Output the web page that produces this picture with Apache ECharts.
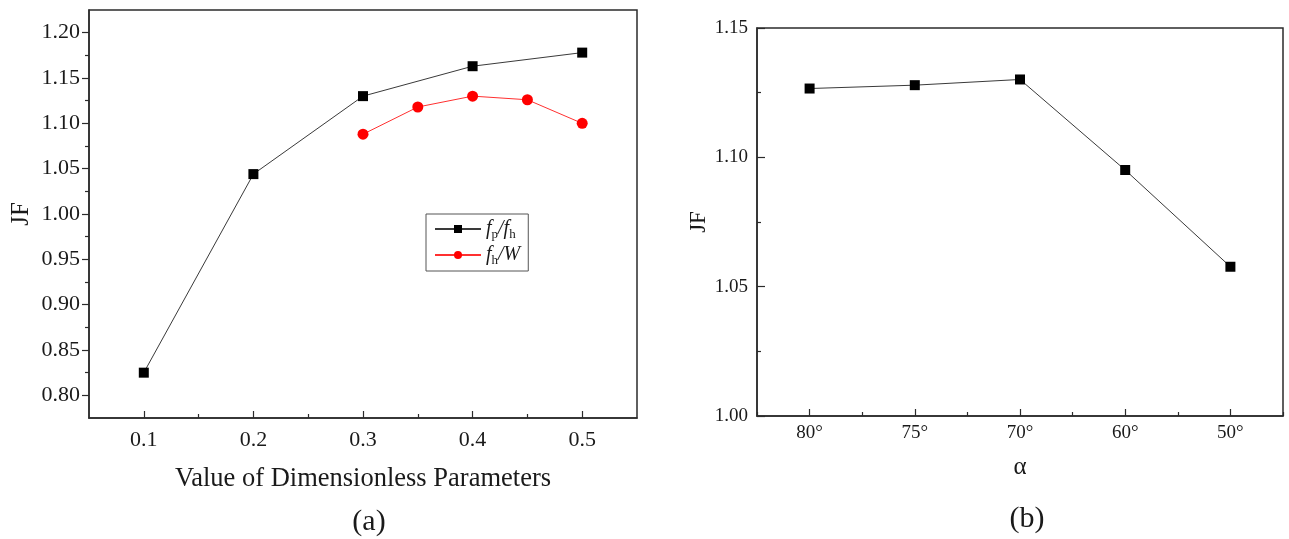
<!DOCTYPE html>
<html>
<head>
<meta charset="utf-8">
<script src="https://cdn.jsdelivr.net/npm/echarts@6/dist/echarts.min.js"></script>
<style>
html,body{margin:0;padding:0;background:#fff;}
#main{width:1289px;height:539px;}
</style>
</head>
<body>
<div id="main"></div>
<script>
// ---- Data ----
const paramX = [0.1, 0.2, 0.3, 0.4, 0.5];
const fpfh = [0.825, 1.044, 1.130, 1.163, 1.178];
const fhWX = [0.3, 0.35, 0.4, 0.45, 0.5];
const fhW = [1.088, 1.118, 1.130, 1.126, 1.100];
const alphaCats = ['80°', '75°', '70°', '60°', '50°'];
const alphaJF = [1.1266, 1.1279, 1.1301, 1.0951, 1.0577];
const leftYTicks = [0.80, 0.85, 0.90, 0.95, 1.00, 1.05, 1.10, 1.15, 1.20];
const leftYMinor = [0.825, 0.875, 0.925, 0.975, 1.025, 1.075, 1.125, 1.175];
const leftXTicks = [0.1, 0.2, 0.3, 0.4, 0.5];
const leftXMinor = [0.15, 0.25, 0.35, 0.45];

const FONT = '"Liberation Serif", "DejaVu Serif", serif';
const TXT = '#1a1a1a';
const AX = '#2b2b2b';

const chart = echarts.init(document.getElementById('main'), null, {renderer: 'canvas'});

const legendRich = {
  i: {fontFamily: FONT, fontStyle: 'italic', fontSize: 20, color: TXT, lineHeight: 24, verticalAlign: 'middle'},
  s: {fontFamily: FONT, fontSize: 13, color: TXT, lineHeight: 24, verticalAlign: 'bottom'}
};

const option = {
  animation: false,
  backgroundColor: '#fff',
  title: [
    {text: '(a)', left: 364, top: 502, textAlign: 'center',
     textStyle: {fontFamily: FONT, fontSize: 30, fontWeight: 'normal', color: TXT}},
    {text: '(b)', left: 1022, top: 499, textAlign: 'center',
     textStyle: {fontFamily: FONT, fontSize: 30, fontWeight: 'normal', color: TXT}}
  ],
  grid: [
    {left: 89, top: 10, width: 548, height: 408, show: true, borderColor: AX, borderWidth: 1.5, backgroundColor: 'transparent'},
    {left: 757, top: 28, width: 526, height: 388, show: true, borderColor: AX, borderWidth: 1.5, backgroundColor: 'transparent'}
  ],
  legend: {
    left: 426, top: 214,
    orient: 'vertical',
    itemWidth: 46, itemHeight: 10, itemGap: 4,
    padding: [5, 8, 4, 8],
    borderColor: '#555', borderWidth: 1,
    data: ['fp/fh', 'fh/W'],
    formatter: function (name) {
      if (name === 'fp/fh') return '{i|f}{s|p}{i|/f}{s|h}';
      return '{i|f}{s|h}{i|/W}';
    },
    textStyle: {rich: legendRich}
  },
  xAxis: [
    {type: 'value', gridIndex: 0, position: 'bottom', min: 0.05, max: 0.55,
     name: 'Value of Dimensionless Parameters', nameLocation: 'middle', nameGap: 48,
     nameTextStyle: {fontFamily: FONT, fontSize: 26.5, color: TXT},
     axisLine: {show: true, lineStyle: {color: AX, width: 1.5}},
     axisTick: {show: true, inside: true, length: 7, customValues: leftXTicks, lineStyle: {color: AX, width: 1.2}},
     axisLabel: {show: true, margin: 11, customValues: leftXTicks, fontFamily: FONT, fontSize: 22, color: TXT,
                 formatter: v => v.toFixed(1)},
     splitLine: {show: false}},
    {type: 'value', gridIndex: 0, position: 'bottom', offset: 0, min: 0.05, max: 0.55,
     axisLine: {show: false},
     axisTick: {show: true, inside: true, length: 4, customValues: leftXMinor, lineStyle: {color: AX, width: 1.2}},
     axisLabel: {show: false}, splitLine: {show: false}},
    {type: 'category', gridIndex: 1, position: 'bottom', data: alphaCats, boundaryGap: true,
     name: 'α', nameLocation: 'middle', nameGap: 39,
     nameTextStyle: {fontFamily: FONT, fontSize: 25, color: TXT},
     axisLine: {show: true, lineStyle: {color: AX, width: 1.5}},
     axisTick: {show: true, inside: true, length: 7, alignWithLabel: true, interval: 0, lineStyle: {color: AX, width: 1.2}},
     axisLabel: {show: true, margin: 8, fontFamily: FONT, fontSize: 19, color: TXT, interval: 0},
     splitLine: {show: false}},
    {type: 'category', gridIndex: 1, position: 'bottom', offset: 0, data: alphaCats, boundaryGap: true,
     axisLine: {show: false},
     axisTick: {show: true, inside: true, length: 4, alignWithLabel: false, interval: 0, lineStyle: {color: AX, width: 1.2}},
     axisLabel: {show: false}, splitLine: {show: false}}
  ],
  yAxis: [
    {type: 'value', gridIndex: 0, position: 'left', min: 0.775, max: 1.225,
     name: 'JF', nameLocation: 'middle', nameGap: 55, nameRotate: 90,
     nameTextStyle: {fontFamily: FONT, fontSize: 25, color: TXT},
     axisLine: {show: true, lineStyle: {color: AX, width: 1.5}},
     axisTick: {show: true, inside: false, length: 7, customValues: leftYTicks, lineStyle: {color: AX, width: 1.2}},
     axisLabel: {show: true, margin: 9, customValues: leftYTicks, fontFamily: FONT, fontSize: 22, color: TXT,
                 formatter: v => v.toFixed(2)},
     splitLine: {show: false}},
    {type: 'value', gridIndex: 0, position: 'left', offset: 0, min: 0.775, max: 1.225,
     axisLine: {show: false},
     axisTick: {show: true, inside: false, length: 4, customValues: leftYMinor, lineStyle: {color: AX, width: 1.2}},
     axisLabel: {show: false}, splitLine: {show: false}},
    {type: 'value', gridIndex: 1, position: 'left', min: 1.0, max: 1.15, interval: 0.05,
     name: 'JF', nameLocation: 'middle', nameGap: 46, nameRotate: 90,
     nameTextStyle: {fontFamily: FONT, fontSize: 23, color: TXT},
     axisLine: {show: true, lineStyle: {color: AX, width: 1.5}},
     axisTick: {show: true, inside: true, length: 8, lineStyle: {color: AX, width: 1.2}},
     minorTick: {show: true, splitNumber: 2, length: 4, lineStyle: {color: AX, width: 1.2}},
     axisLabel: {show: true, margin: 9, fontFamily: FONT, fontSize: 19, color: TXT,
                 formatter: v => v.toFixed(2)},
     splitLine: {show: false}, minorSplitLine: {show: false}}
  ],
  series: [
    {name: 'fp/fh', type: 'line', xAxisIndex: 0, yAxisIndex: 0,
     data: paramX.map((x, i) => [x, fpfh[i]]),
     symbol: 'rect', symbolSize: 10,
     itemStyle: {color: '#000'},
     lineStyle: {color: '#3a3a3a', width: 1}},
    {name: 'fh/W', type: 'line', xAxisIndex: 0, yAxisIndex: 0,
     data: fhWX.map((x, i) => [x, fhW[i]]),
     symbol: 'circle', symbolSize: 11,
     itemStyle: {color: '#ff0000'},
     lineStyle: {color: '#ff3030', width: 1}},
    {name: 'alpha', type: 'line', xAxisIndex: 2, yAxisIndex: 2,
     data: alphaJF,
     symbol: 'rect', symbolSize: 10,
     itemStyle: {color: '#000'},
     lineStyle: {color: '#3a3a3a', width: 1}}
  ]
};
chart.setOption(option);
</script>
</body>
</html>
